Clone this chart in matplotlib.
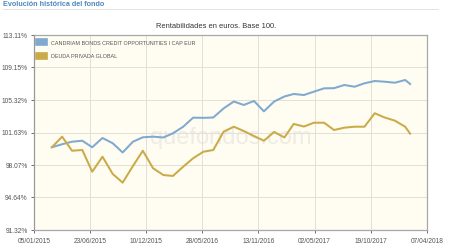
import numpy as np
import pandas as pd
import matplotlib
matplotlib.use("Agg")
import matplotlib.pyplot as plt
from matplotlib.ticker import FixedLocator, NullLocator

# month-end values, base 100 (last point mid-month)
dates = list(pd.date_range("2015-02-28", "2018-01-31", freq="ME")) + [pd.Timestamp("2018-02-15")]
candriam = [100.0, 100.33, 100.61, 100.72, 100.0, 101.02, 100.44, 99.43, 100.61, 101.10,
            101.17, 101.08, 101.54, 102.28, 103.30, 103.28, 103.32, 104.35, 105.15, 104.75,
            105.21, 104.02, 105.15, 105.73, 106.02, 105.90, 106.29, 106.68, 106.70, 107.07,
            106.87, 107.27, 107.54, 107.46, 107.34, 107.66, 107.19]
deuda = [100.0, 101.17, 99.62, 99.70, 97.35, 98.97, 97.11, 96.19, 97.96, 99.62,
         97.72, 97.00, 96.90, 97.89, 98.80, 99.51, 99.70, 101.72, 102.28, 101.80,
         101.24, 100.72, 101.69, 101.08, 102.59, 102.30, 102.73, 102.73, 101.91, 102.17,
         102.28, 102.28, 103.80, 103.32, 102.96, 102.28, 101.50]
series_names = ["CANDRIAM BONDS CREDIT OPPORTUNITIES I CAP EUR", "DEUDA PRIVADA GLOBAL"]

y_ticks = [91.32, 94.64, 98.07, 101.63, 105.32, 109.15, 113.11]
y_labels = ["91.32%", "94.64%", "98.07%", "101.63%", "105.32%", "109.15%", "113.11%"]
x_ticks = ["05/01/2015", "23/06/2015", "10/12/2015", "28/05/2016",
           "13/11/2016", "02/05/2017", "19/10/2017", "07/04/2018"]

plt.rcParams["font.family"] = ["Liberation Sans", "DejaVu Sans"]

fig = plt.figure(figsize=(4.5, 2.48), dpi=100)
fig.patch.set_facecolor("white")
ax = fig.add_axes([34/450, 1-230/248, (427-34)/450, (230-35)/248])
ax.set_facecolor("#fffcf1")

blue, gold = "#80a9d0", "#caab48"
ax.plot(dates, candriam, color=blue, lw=1.45, label=series_names[0], zorder=3)
ax.plot(dates, deuda, color=gold, lw=1.45, label=series_names[1], zorder=3)

ax.set_yscale("log")
ax.set_ylim(y_ticks[0], y_ticks[-1])
ax.yaxis.set_major_locator(FixedLocator(y_ticks))
ax.yaxis.set_minor_locator(NullLocator())
ax.set_yticklabels(y_labels)

xt = [pd.to_datetime(s, format="%d/%m/%Y") for s in x_ticks]
ax.set_xlim(xt[0], xt[-1])
ax.set_xticks(xt)
ax.set_xticklabels(x_ticks)
ax.xaxis.set_minor_locator(NullLocator())

ax.grid(True, color="#e3e0d6", lw=0.7)
ax.tick_params(axis="both", labelsize=4.8, colors="#555555", length=2.5, width=0.6, pad=2)
ax.tick_params(axis="x", pad=3)
for s in ax.spines.values():
    s.set_color("#a8a8a8")
    s.set_linewidth(0.9)
ax.spines["left"].set_color("#999999")

leg = ax.legend(loc="upper left", bbox_to_anchor=(0.0, 1.0), frameon=False, fontsize=3.9,
                handlelength=0.9, handleheight=0.9, labelspacing=1.6, borderaxespad=0.6,
                handletextpad=1.2)
for h, c in zip(leg.legend_handles, [blue, gold]):
    h.set_linewidth(5.5)
    h.set_color(c)
for t in leg.get_texts():
    t.set_color("#555555")

ax.text(0.5, 0.47, "quefondos.com", transform=ax.transAxes, fontsize=17,
        color="#eeece5", ha="center", va="center", zorder=1)

fig.text(3/450, 1-5/248, "Evolución histórica del fondo", fontsize=5.2, fontweight="bold",
         color="#4d88bd", va="center", ha="left")
fig.add_artist(plt.Line2D([3/450, 438/450], [1-9/248, 1-9/248], color="#dddddd", lw=0.6))
fig.text(216/450, 1-26/248, "Rentabilidades en euros. Base 100.", fontsize=5.4,
         color="#333333", ha="center", va="center")

fig.savefig("out.png", dpi=100)
